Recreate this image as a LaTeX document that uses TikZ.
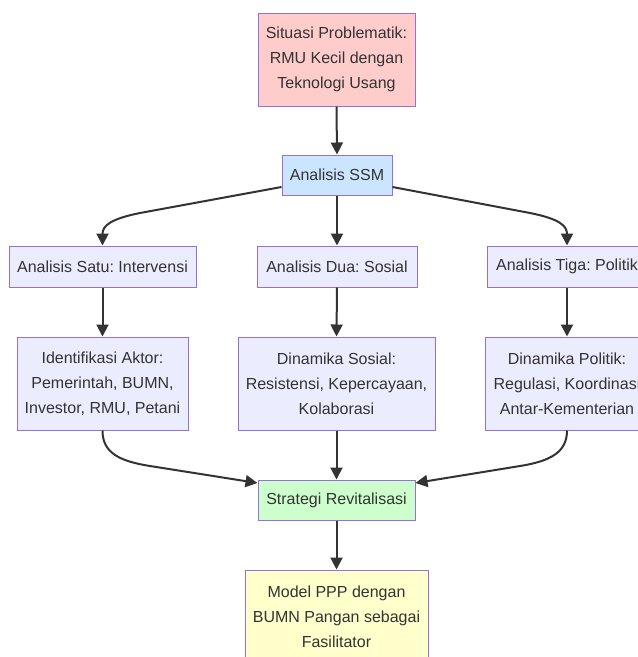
\documentclass[tikz,border=0pt]{standalone}
\usepackage{fontspec}
\setmainfont{Liberation Sans}
\frenchspacing
\usetikzlibrary{arrows.meta}
\definecolor{bord}{HTML}{9370DB}
\definecolor{fdef}{HTML}{ECECFF}
\definecolor{fpink}{HTML}{FFCCCC}
\definecolor{fblue}{HTML}{CCE5FF}
\definecolor{fgreen}{HTML}{CCFFCC}
\definecolor{fyellow}{HTML}{FFFFCC}
\definecolor{txt}{HTML}{333333}
\tikzset{
  box/.style={draw=bord, line width=1pt, fill=fdef, align=center, inner sep=0pt,
    text=txt, font=\fontsize{16}{25}\selectfont\frenchspacing},
  conn/.style={draw=txt, line width=2pt, -{Triangle[length=12pt,width=12pt]}},
}
\begin{document}
\begin{tikzpicture}[x=1pt,y=-1pt]
\useasboundingbox (0,0) rectangle (638,657);
\clip (0,0) rectangle (638,657);
\fill[white] (0,0) rectangle (638,657);
\node[box, fill=fpink, minimum width=157pt, minimum height=93pt] (sit) at (336.5,59.5) {Situasi Problematik:\\RMU Kecil dengan\\Teknologi Usang};
\node[box, fill=fblue, minimum width=110pt, minimum height=40pt] (ssm) at (337,175) {Analisis SSM};
\node[box, minimum width=187pt, minimum height=41pt] (satu) at (102.5,266.5) {Analisis Satu: Intervensi};
\node[box, minimum width=160pt, minimum height=41pt] (dua) at (337,266.5) {Analisis Dua: Sosial};
\node[box, minimum width=160pt, minimum height=41pt] (tiga) at (567,266.5) {Analisis Tiga: Politik};
\node[box, minimum width=171pt, minimum height=93pt] (akt) at (102.5,383.5) {Identifikasi Aktor:\\Pemerintah, BUMN,\\Investor, RMU, Petani};
\node[box, minimum width=197pt, minimum height=93pt] (sos) at (336.5,383.5) {Dinamika Sosial:\\Resistensi, Kepercayaan,\\Kolaborasi};
\node[box, minimum width=164pt, minimum height=93pt] (pol) at (567,383.5) {Dinamika Politik:\\Regulasi, Koordinasi\\Antar-Kementerian};
\node[box, fill=fgreen, minimum width=157pt, minimum height=40pt] (str) at (336.5,500) {Strategi Revitalisasi};
\node[box, fill=fyellow, minimum width=183pt, minimum height=94pt] (mod) at (336.5,617) {Model PPP dengan\\BUMN Pangan sebagai\\Fasilitator};

\draw[conn] (sit.south) -- (ssm.north);
\draw[conn] (ssm.south) -- (dua.north);
\draw[conn] ([yshift=-12pt]ssm.west) -- (140,213) .. controls (110,219) and (102.5,226) .. (satu.north);
\draw[conn] ([yshift=-12pt]ssm.east) -- (530,213) .. controls (560,219) and (567,226) .. (tiga.north);
\draw[conn] (satu.south) -- (akt.north);
\draw[conn] (dua.south) -- (sos.north);
\draw[conn] (tiga.south) -- (pol.north);
\draw[conn] (akt.south) .. controls (102.5,452) and (118,461) .. (150,466) -- ([yshift=17pt]str.west);
\draw[conn] (sos.south) -- (str.north);
\draw[conn] (pol.south) .. controls (567,452) and (551,461) .. (520,466) -- ([yshift=17pt]str.east);
\draw[conn] (str.south) -- (mod.north);
\end{tikzpicture}
\end{document}
